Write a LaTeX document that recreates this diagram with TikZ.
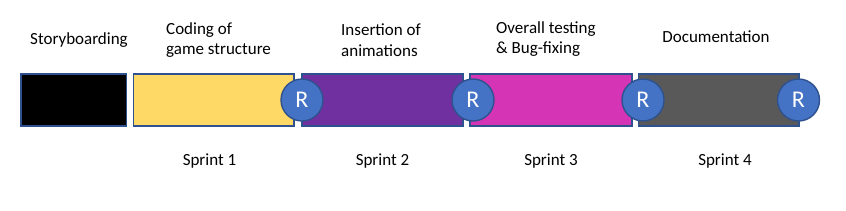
\documentclass[tikz,border=0pt]{standalone}
\usepackage{fontspec}
\setmainfont{Carlito}
\definecolor{edge}{HTML}{2F528F}
\definecolor{cyel}{HTML}{FFD966}
\definecolor{cpur}{HTML}{7030A0}
\definecolor{cmag}{HTML}{D535B5}
\definecolor{cgry}{HTML}{595959}
\definecolor{cblu}{HTML}{4472C4}
\begin{document}
\begin{tikzpicture}[x=1pt,y=-1pt,
  bar/.style={draw=edge,line width=1.6pt},
  rev/.style={circle,draw=edge,line width=1.4pt,fill=cblu,minimum size=42pt,inner sep=0pt,text=white,font=\fontsize{24}{26}\selectfont},
  lbl/.style={font=\fontsize{17}{20.5}\selectfont,inner sep=0pt},
  ml/.style={lbl,align=left,anchor=west}]
\useasboundingbox (0,0) rectangle (846,210);
\path[fill=white] (0,0) rectangle (846,210);
\draw[bar,fill=black] (21,74) rectangle (126.5,126);
\draw[bar,fill=cyel] (133.5,74) rectangle (294,126);
\draw[bar,fill=cpur] (302,74) rectangle (463,126);
\draw[bar,fill=cmag] (470,74) rectangle (632,126);
\draw[bar,fill=cgry] (638.5,74) rectangle (799,126);
\node[rev] (r1) at (302,100) {R};
\node[rev] (r2) at (473,100) {R};
\node[rev] (r3) at (643,100) {R};
\node[rev] (r4) at (798.5,100) {R};
\node[lbl] (t0) at (79,40) {Storyboarding};
\node[ml] (t1) at (166,40) {Coding of\\game structure};
\node[ml] (t2) at (341,40) {Insertion of\\animations};
\node[ml] (t3) at (496,39) {Overall testing\\\& Bug-fixing};
\node[lbl] (t4) at (716,37) {Documentation};
\node[lbl] (s1) at (209.5,161) {Sprint 1};
\node[lbl] (s2) at (382.5,161) {Sprint 2};
\node[lbl] (s3) at (551,161) {Sprint 3};
\node[lbl] (s4) at (725,161) {Sprint 4};
\end{tikzpicture}
\end{document}
